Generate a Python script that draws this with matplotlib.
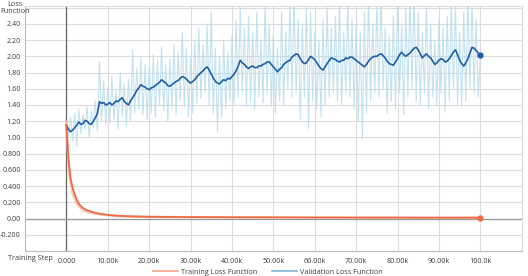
import matplotlib
matplotlib.use("Agg")
import matplotlib.pyplot as plt
import numpy as np
from matplotlib.lines import Line2D

# ---------------- data ----------------
val_smooth_steps = list(range(0, 100500, 500))
val_smooth = [
    1.15, 1.10, 1.07, 1.09, 1.12, 1.15, 1.19, 1.16, 1.17, 1.21,
    1.20, 1.17, 1.16, 1.20, 1.24, 1.30, 1.44, 1.42, 1.43, 1.40,
    1.41, 1.43, 1.40, 1.42, 1.45, 1.44, 1.47, 1.49, 1.44, 1.42,
    1.40, 1.45, 1.49, 1.53, 1.58, 1.61, 1.65, 1.63, 1.62, 1.60,
    1.59, 1.61, 1.62, 1.64, 1.66, 1.68, 1.71, 1.69, 1.67, 1.64,
    1.63, 1.65, 1.67, 1.69, 1.70, 1.73, 1.75, 1.74, 1.72, 1.69,
    1.67, 1.69, 1.71, 1.75, 1.77, 1.80, 1.82, 1.85, 1.87, 1.83,
    1.78, 1.73, 1.69, 1.67, 1.66, 1.69, 1.71, 1.70, 1.73, 1.72,
    1.75, 1.78, 1.82, 1.88, 1.95, 1.92, 1.90, 1.87, 1.85, 1.87,
    1.88, 1.86, 1.86, 1.88, 1.88, 1.90, 1.91, 1.93, 1.93, 1.90,
    1.87, 1.84, 1.81, 1.84, 1.86, 1.90, 1.92, 1.94, 1.95, 1.99,
    2.01, 2.03, 2.02, 1.97, 1.93, 1.91, 1.92, 1.96, 2.00, 1.98,
    1.96, 1.92, 1.88, 1.85, 1.83, 1.87, 1.91, 1.95, 1.98, 1.97,
    1.96, 1.94, 1.93, 1.95, 1.95, 1.98, 1.97, 1.99, 1.99, 1.97,
    1.95, 1.93, 1.91, 1.89, 1.87, 1.90, 1.94, 1.97, 1.99, 2.00,
    2.00, 2.02, 2.03, 2.01, 1.98, 1.94, 1.91, 1.90, 1.89, 1.93,
    1.97, 2.02, 2.05, 2.02, 2.00, 2.02, 2.04, 2.07, 2.10, 2.11,
    2.08, 2.03, 1.98, 2.01, 2.03, 2.00, 1.98, 1.94, 1.90, 1.92,
    1.95, 1.97, 1.96, 1.93, 1.94, 1.97, 2.01, 2.05, 2.08, 2.02,
    1.95, 1.91, 1.88, 1.92, 1.97, 2.04, 2.11, 2.10, 2.07, 2.04,
    2.01,
]

val_raw_steps = list(range(0, 100500, 500))
val_raw = [
    1.18, 1.02, 1.25, 0.96, 1.30, 0.89, 1.35, 1.05, 1.28, 1.10,
    1.38, 1.00, 1.33, 1.12, 1.45, 1.08, 1.93, 1.20, 1.70, 1.15,
    1.62, 1.18, 1.75, 1.22, 1.58, 1.10, 1.80, 1.25, 1.66, 1.15,
    1.72, 1.20, 2.08, 1.30, 1.85, 1.35, 1.98, 1.28, 1.90, 1.22,
    1.88, 1.30, 2.02, 1.25, 1.95, 1.40, 2.12, 1.33, 1.90, 1.20,
    1.97, 1.35, 2.15, 1.28, 2.05, 1.45, 2.30, 1.38, 2.10, 1.25,
    2.00, 1.30, 2.20, 1.42, 2.35, 1.48, 2.15, 1.55, 2.40, 1.40,
    2.55, 1.30, 2.10, 1.07, 2.00, 1.25, 2.20, 1.35, 2.05, 1.45,
    2.25, 1.40, 2.45, 1.50, 2.60, 1.55, 2.35, 1.38, 2.50, 1.45,
    2.30, 1.35, 2.55, 1.50, 2.20, 1.42, 2.65, 1.55, 2.40, 1.38,
    2.25, 1.30, 2.10, 1.45, 2.55, 1.40, 2.30, 1.60, 2.70, 1.50,
    2.75, 1.55, 2.45, 1.22, 2.40, 1.50, 2.65, 1.11, 2.55, 1.45,
    2.30, 1.35, 2.20, 1.25, 2.45, 1.40, 2.60, 1.50, 2.35, 1.55,
    2.50, 1.45, 2.70, 1.40, 2.30, 1.55, 2.65, 1.50, 2.45, 1.35,
    2.40, 1.20, 2.30, 0.98, 2.55, 1.30, 2.75, 1.45, 2.40, 1.55,
    2.65, 1.50, 2.80, 1.60, 2.35, 1.30, 2.25, 1.44, 2.50, 1.35,
    2.70, 1.55, 2.40, 1.28, 2.60, 1.50, 2.75, 1.60, 2.80, 1.45,
    2.55, 1.40, 2.30, 1.55, 2.65, 1.35, 2.40, 1.50, 2.20, 1.40,
    2.45, 1.55, 2.35, 1.32, 2.50, 1.45, 2.70, 1.60, 2.65, 1.40,
    2.30, 1.38, 2.55, 1.45, 2.75, 1.60, 2.70, 1.55, 2.45, 1.50,
    2.00,
]

train_steps = [0, 500, 1000, 1500, 2000, 2500, 3000, 4000, 5000, 6000,
               7000, 8000, 10000, 12000, 15000, 20000, 25000, 30000, 35000,
               40000, 45000, 50000, 55000, 60000, 65000, 70000, 75000,
               80000, 85000, 90000, 95000, 100000]
train_smooth = [1.15, 0.75, 0.50, 0.38, 0.30, 0.23, 0.18, 0.13, 0.10, 0.085,
                0.07, 0.06, 0.045, 0.036, 0.028, 0.022, 0.020, 0.018, 0.017,
                0.016, 0.015, 0.015, 0.014, 0.013, 0.013, 0.012, 0.012,
                0.012, 0.011, 0.011, 0.011, 0.011]
train_raw = [1.20, 0.62, 0.44, 0.30, 0.25, 0.19, 0.15, 0.10, 0.08, 0.068,
             0.058, 0.05, 0.04, 0.032, 0.026, 0.02, 0.02, 0.017, 0.016,
             0.015, 0.015, 0.014, 0.013, 0.013, 0.012, 0.012, 0.011,
             0.011, 0.011, 0.010, 0.011, 0.011]

x_ticks = [0, 10000, 20000, 30000, 40000, 50000, 60000, 70000, 80000, 90000, 100000]
x_labels = ["0.000", "10.00k", "20.00k", "30.00k", "40.00k", "50.00k",
            "60.00k", "70.00k", "80.00k", "90.00k", "100.0k"]
y_ticks = [-0.2, 0.0, 0.2, 0.4, 0.6, 0.8, 1.0, 1.2, 1.4, 1.6, 1.8, 2.0, 2.2, 2.4]
y_labels = ["-0.200", "0.00", "0.200", "0.400", "0.600", "0.800", "1.00",
            "1.20", "1.40", "1.60", "1.80", "2.00", "2.20", "2.40"]

# ---------------- style ----------------
plt.rcParams['font.family'] = ['Open Sans', 'DejaVu Sans']
TXT = '#3c3c3c'
FS = 5.2

fig = plt.figure(figsize=(5.28, 2.76), dpi=100)
ax = fig.add_axes([25/528, 1-251/276, (521.7-25)/528, (251-6)/276])

ax.set_xlim(-10000, 110000)
ax.set_ylim(-0.4, 2.62)

# grid
for gx in range(-10000, 110001, 10000):
    ax.axvline(gx, color='#dddddd', lw=0.8, zorder=0)
for gy in np.arange(-0.4, 2.61, 0.2):
    ax.axhline(gy, color='#dddddd', lw=0.8, zorder=0)
ax.axvline(0, color='#666666', lw=0.9, zorder=1)
ax.axhline(0, color='#999999', lw=0.9, zorder=1)

# series
ax.plot(val_raw_steps, val_raw, color='#b5dbec', lw=0.8, alpha=0.8, zorder=2)
ax.plot(val_smooth_steps, val_smooth, color='#1f5fa8', lw=1.2, zorder=4)
ax.plot(train_steps, train_raw, color='#f7b9a6', lw=1.6, alpha=0.8, zorder=3)
ax.plot(train_steps, train_smooth, color='#ee6a45', lw=1.3, zorder=5)
ax.plot([val_smooth_steps[-1]], [val_smooth[-1]], 'o', color='#1f5fa8', ms=3.5, zorder=6)
ax.plot([train_steps[-1]], [train_smooth[-1]], 'o', color='#ee6a45', ms=3.5, zorder=6)

ax.set_xticks(x_ticks)
ax.set_xticklabels(x_labels)
ax.set_yticks(y_ticks)
ax.set_yticklabels(y_labels)
ax.tick_params(axis='both', length=0, labelsize=FS, colors=TXT)
ax.tick_params(axis='x', pad=5)
ax.tick_params(axis='y', pad=3)

for s in ['top', 'right']:
    ax.spines[s].set_color('#dddddd')
    ax.spines[s].set_linewidth(0.8)
for s in ['left', 'bottom']:
    ax.spines[s].set_color('#bbbbbb')
    ax.spines[s].set_linewidth(0.8)

fig.text(15/528, 1-1/276, "Loss\nFunction", ha='center', va='top',
         fontsize=FS, color=TXT, linespacing=1.05)
fig.text(8/528, 1-258/276, "Training Step", ha='left', va='center',
         fontsize=FS, color=TXT)

handles = [Line2D([], [], color='#f4a58a', lw=1.2),
           Line2D([], [], color='#7fb6dc', lw=1.2)]
fig.legend(handles, ["Training Loss Function", "Validation Loss Function"],
           loc='center', bbox_to_anchor=(268/528, 1-272/276), ncol=2,
           frameon=False, fontsize=FS, handlelength=3.5, handletextpad=0.4,
           columnspacing=2.0, labelcolor=TXT, borderpad=0)

fig.savefig('out.png', dpi=100)
